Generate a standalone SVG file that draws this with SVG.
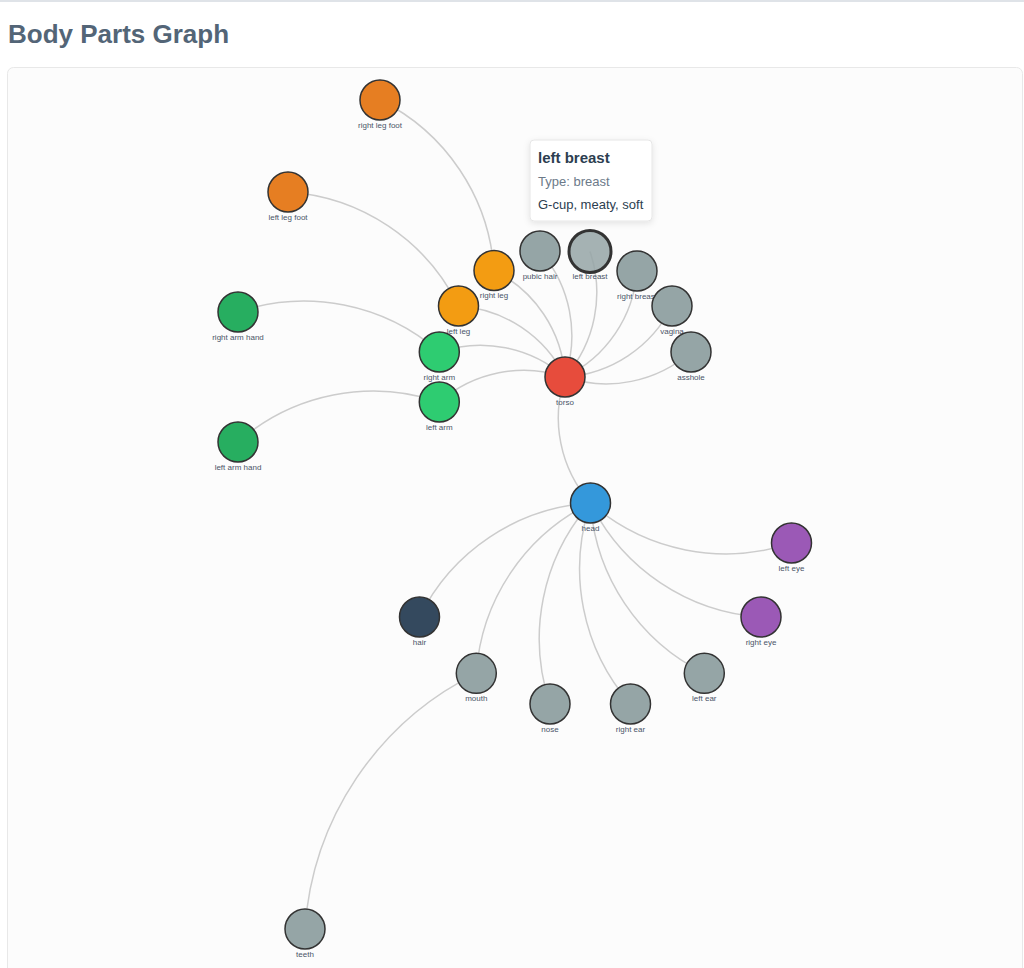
<svg xmlns="http://www.w3.org/2000/svg" width="1024" height="968" viewBox="0 0 1024 968">
<style>
.link{fill:none;stroke:#cccccc;stroke-width:1.5}
.node circle{stroke:#333;stroke-width:1.5}
.node text{font-family:"Liberation Sans",Arial,sans-serif;font-size:8px;fill:#4a5568;text-anchor:middle}
.gray{fill:#95a5a6}
.title{font-family:"Liberation Sans",Arial,sans-serif;font-size:26px;font-weight:bold;fill:#536577}
.tt{font-family:"Liberation Sans",Arial,sans-serif;font-size:13px}
</style>
<defs>
<filter id="sh" x="-20%" y="-20%" width="140%" height="150%">
<feDropShadow dx="0" dy="2" stdDeviation="3" flood-color="#000" flood-opacity="0.1"/>
</filter>
</defs>
<rect x="0" y="0" width="1024" height="968" fill="#ffffff"/>
<rect x="0" y="0" width="1024" height="2" fill="#dfe3e8"/>
<text class="title" x="8" y="43">Body Parts Graph</text>
<rect x="7.5" y="67.5" width="1015" height="920" rx="6" fill="#fcfcfc" stroke="#e8e8e8"/>
<g id="links">
<path class="link" d="M590.5,503 A128.6,128.6 0 0,1 565,377"/>
<path class="link" d="M419.5,617 A205,205 0 0,1 590.5,503"/>
<path class="link" d="M476.3,673.3 A205,205 0 0,1 590.5,503"/>
<path class="link" d="M550,704 A205,205 0 0,1 590.5,503"/>
<path class="link" d="M630.5,704 A205,205 0 0,1 590.5,503"/>
<path class="link" d="M704.3,673.3 A205,205 0 0,1 590.5,503"/>
<path class="link" d="M761,617 A205,205 0 0,1 590.5,503"/>
<path class="link" d="M791.5,543 A205,205 0 0,1 590.5,503"/>
<path class="link" d="M305,929 A307.8,307.8 0 0,1 476.3,673.3"/>
<path class="link" d="M494,270.5 A128,128 0 0,1 565,377"/>
<path class="link" d="M458.5,306 A128,128 0 0,1 565,377"/>
<path class="link" d="M439.3,352 A128.2,128.2 0 0,1 565,377"/>
<path class="link" d="M439.3,402 A128.2,128.2 0 0,1 565,377"/>
<path class="link" d="M540,251 A128.5,128.5 0 0,1 565,377"/>
<path class="link" d="M590,251.5 A128,128 0 0,1 565,377"/>
<path class="link" d="M637,271 A128.1,128.1 0 0,1 565,377"/>
<path class="link" d="M672,306 A128.4,128.4 0 0,1 565,377"/>
<path class="link" d="M691,352 A128.5,128.5 0 0,1 565,377"/>
<path class="link" d="M380,100 A205.1,205.1 0 0,1 494,270.5"/>
<path class="link" d="M288,192 A205.1,205.1 0 0,1 458.5,306"/>
<path class="link" d="M238,312 A205.2,205.2 0 0,1 439.3,352"/>
<path class="link" d="M238,442 A205.2,205.2 0 0,1 439.3,402"/>
</g>
<g id="node-torso" class="node"><circle cx="565" cy="377" r="20" fill="#e74c3c"/><text x="565" y="404.5">torso</text></g>
<g id="node-head" class="node"><circle cx="590.5" cy="503" r="20" fill="#3498db"/><text x="590.5" y="530.5">head</text></g>
<g id="node-hair" class="node"><circle cx="419.5" cy="617" r="20" fill="#34495e"/><text x="419.5" y="644.5">hair</text></g>
<g id="node-left-eye" class="node"><circle cx="791.5" cy="543" r="20" fill="#9b59b6"/><text x="791.5" y="570.5">left eye</text></g>
<g id="node-right-eye" class="node"><circle cx="761" cy="617" r="20" fill="#9b59b6"/><text x="761" y="644.5">right eye</text></g>
<g id="node-left-ear" class="node"><circle cx="704.3" cy="673.3" r="20" class="gray"/><text x="704.3" y="700.8">left ear</text></g>
<g id="node-right-ear" class="node"><circle cx="630.5" cy="704" r="20" class="gray"/><text x="630.5" y="731.5">right ear</text></g>
<g id="node-nose" class="node"><circle cx="550" cy="704" r="20" class="gray"/><text x="550" y="731.5">nose</text></g>
<g id="node-mouth" class="node"><circle cx="476.3" cy="673.3" r="20" class="gray"/><text x="476.3" y="700.8">mouth</text></g>
<g id="node-teeth" class="node"><circle cx="305" cy="929" r="20" class="gray"/><text x="305" y="956.5">teeth</text></g>
<g id="node-right-leg-foot" class="node"><circle cx="380" cy="100" r="20" fill="#e67e22"/><text x="380" y="127.5">right leg foot</text></g>
<g id="node-left-leg-foot" class="node"><circle cx="288" cy="192" r="20" fill="#e67e22"/><text x="288" y="219.5">left leg foot</text></g>
<g id="node-right-arm-hand" class="node"><circle cx="238" cy="312" r="20" fill="#27ae60"/><text x="238" y="339.5">right arm hand</text></g>
<g id="node-left-arm-hand" class="node"><circle cx="238" cy="442" r="20" fill="#27ae60"/><text x="238" y="469.5">left arm hand</text></g>
<g id="node-right-leg" class="node"><circle cx="494" cy="270.5" r="20" fill="#f39c12"/><text x="494" y="298">right leg</text></g>
<g id="node-left-leg" class="node"><circle cx="458.5" cy="306" r="20" fill="#f39c12"/><text x="458.5" y="333.5">left leg</text></g>
<g id="node-right-arm" class="node"><circle cx="439.3" cy="352" r="20" fill="#2ecc71"/><text x="439.3" y="379.5">right arm</text></g>
<g id="node-left-arm" class="node"><circle cx="439.3" cy="402" r="20" fill="#2ecc71"/><text x="439.3" y="429.5">left arm</text></g>
<g id="node-pubic-hair" class="node"><circle cx="540" cy="251" r="20" class="gray"/><text x="540" y="278.5">pubic hair</text></g>
<g id="node-left-breast" class="node"><text x="590" y="279">left breast</text><circle cx="590" cy="251.5" r="21" fill="#95a5a6" fill-opacity="0.85" style="stroke-width:3"/></g>
<g id="node-right-breast" class="node"><circle cx="637" cy="271" r="20" class="gray"/><text x="637" y="298.5">right breast</text></g>
<g id="node-vagina" class="node"><circle cx="672" cy="306" r="20" class="gray"/><text x="672" y="333.5">vagina</text></g>
<g id="node-asshole" class="node"><circle cx="691" cy="352" r="20" class="gray"/><text x="691" y="379.5">asshole</text></g>
<g id="tooltip">
<rect x="530" y="140" width="122" height="81" rx="4" fill="#ffffff" stroke="#e6e6e6" filter="url(#sh)"/>
<text x="538" y="163" class="tt" style="font-size:15px;font-weight:bold" fill="#2c3e50">left breast</text>
<text x="538" y="186" class="tt" fill="#6c7a89">Type: breast</text>
<text x="538" y="209" class="tt" fill="#2c3e50">G-cup, meaty, soft</text>
</g>
</svg>
